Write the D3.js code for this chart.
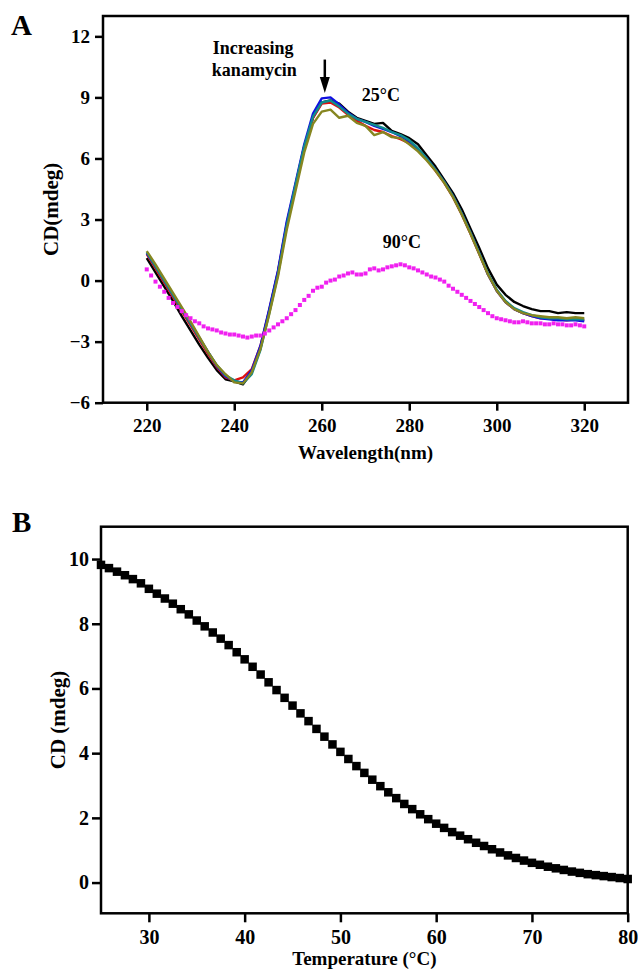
<!DOCTYPE html>
<html lang="en">
<head>
<meta charset="UTF-8">
<title>CD spectra and melting curve</title>
<script src="https://d3js.org/d3.v7.min.js"></script>
<style>
  body { margin: 0; background: #fff; }
  svg { display: block; font-family: "Times New Roman", "Liberation Serif", serif; font-weight: bold; }
</style>
</head>
<body>
<script>
// ---- Panel A data: CD spectra at 25 C (5 kanamycin levels) and 90 C ----
const wl = [220,222,224,226,228,230,232,234,236,238,240,242,244,246,248,250,252,254,256,258,260,
  262,264,266,268,270,272,274,276,278,280,282,284,286,288,290,292,294,296,298,300,
  302,304,306,308,310,312,314,316,318,320];

const cdBlack = [1.1,0.4,-0.3,-1.0,-1.75,-2.45,-3.15,-3.8,-4.4,-4.85,-4.95,-5.1,-4.5,-3.3,-1.5,0.4,2.7,4.6,6.5,8.0,8.75,
  8.85,8.7,8.3,8.0,7.85,7.7,7.75,7.35,7.2,7.0,6.7,6.15,5.6,4.95,4.3,3.5,2.55,1.6,0.6,-0.2,
  -0.7,-1.05,-1.25,-1.4,-1.5,-1.5,-1.6,-1.55,-1.6,-1.6];
const cdRed = [1.3,0.6,-0.1,-0.8,-1.5,-2.2,-2.9,-3.6,-4.25,-4.75,-4.9,-4.75,-4.35,-3.2,-1.45,0.45,2.8,4.7,6.6,8.0,8.7,
  8.75,8.5,8.15,7.85,7.6,7.4,7.3,7.1,6.95,6.75,6.4,5.95,5.4,4.8,4.1,3.25,2.3,1.3,0.3,-0.5,
  -1.05,-1.4,-1.6,-1.75,-1.85,-1.85,-1.9,-1.95,-1.9,-1.95];
const cdBlue = [1.35,0.7,0.0,-0.7,-1.4,-2.1,-2.8,-3.5,-4.2,-4.7,-4.95,-5.0,-4.4,-3.2,-1.4,0.5,2.9,4.8,6.7,8.2,8.95,
  9.0,8.65,8.25,7.95,7.8,7.6,7.45,7.3,7.1,6.85,6.45,6.0,5.45,4.85,4.15,3.3,2.35,1.35,0.3,-0.5,
  -1.05,-1.4,-1.6,-1.75,-1.85,-1.9,-1.95,-1.95,-1.95,-2.0];
const cdTeal = [1.4,0.7,0.0,-0.7,-1.4,-2.1,-2.8,-3.5,-4.15,-4.65,-4.9,-5.05,-4.6,-3.4,-1.6,0.3,2.7,4.7,6.6,8.05,8.75,
  8.85,8.55,8.2,7.95,7.8,7.65,7.5,7.3,7.15,6.9,6.5,6.0,5.45,4.85,4.15,3.3,2.35,1.35,0.35,-0.45,
  -1.0,-1.35,-1.55,-1.7,-1.8,-1.85,-1.85,-1.9,-1.9,-1.9];
const cdOlive = [1.45,0.8,0.1,-0.6,-1.3,-2.0,-2.75,-3.5,-4.15,-4.6,-5.0,-5.05,-4.5,-3.35,-1.65,0.2,2.5,4.4,6.3,7.7,8.3,
  8.4,8.0,8.1,7.75,7.6,7.15,7.3,7.05,7.0,6.7,6.35,5.9,5.4,4.8,4.1,3.25,2.3,1.3,0.3,-0.5,
  -1.05,-1.4,-1.6,-1.7,-1.75,-1.8,-1.8,-1.85,-1.8,-1.85];

const seriesNames = ["black", "red", "blue", "teal", "olive"];
const seriesColors = ["#000000", "#e01010", "#1010e0", "#108c8c", "#868620"];
const seriesValues = [cdBlack, cdRed, cdBlue, cdTeal, cdOlive];

const wl90 = [220,221,222,223,224,225,226,227,228,229,230,231,232,233,234,235,236,237,238,239,240,
  241,242,243,244,245,246,247,248,249,250,251,252,253,254,255,256,257,258,259,260,
  261,262,263,264,265,266,267,268,269,270,271,272,273,274,275,276,277,278,279,280,
  281,282,283,284,285,286,287,288,289,290,291,292,293,294,295,296,297,298,299,300,
  301,302,303,304,305,306,307,308,309,310,311,312,313,314,315,316,317,318,319,320];
const cd90 = [0.55,0.25,-0.05,-0.3,-0.55,-0.85,-1.1,-1.3,-1.5,-1.7,-1.85,-2.0,-2.1,-2.25,-2.35,-2.4,-2.45,-2.55,-2.6,-2.65,-2.65,
  -2.7,-2.75,-2.8,-2.75,-2.7,-2.7,-2.6,-2.45,-2.3,-2.15,-2.0,-1.85,-1.65,-1.45,-1.2,-0.95,-0.75,-0.5,-0.35,-0.3,
  -0.1,0.0,0.05,0.2,0.25,0.35,0.4,0.3,0.3,0.35,0.55,0.6,0.5,0.55,0.65,0.7,0.75,0.8,0.75,0.65,
  0.6,0.5,0.4,0.3,0.2,0.15,0.05,-0.05,-0.25,-0.4,-0.55,-0.7,-0.85,-1.0,-1.15,-1.3,-1.45,-1.6,-1.75,-1.85,
  -1.9,-1.95,-2.0,-2.05,-2.05,-2.0,-2.05,-2.1,-2.1,-2.1,-2.15,-2.15,-2.1,-2.15,-2.15,-2.2,-2.2,-2.15,-2.2,-2.25];

const xTicksA = [220, 240, 260, 280, 300, 320];
const yTicksA = [-6, -3, 0, 3, 6, 9, 12];

// ---- Panel B data: thermal melting curve ----
const temps = [25.00,25.83,26.67,27.50,28.33,29.17,30.00,30.83,31.67,32.50,33.33,34.17,35.00,35.83,36.67,37.50,38.33,39.17,
  40.00,40.83,41.67,42.50,43.33,44.17,45.00,45.83,46.67,47.50,48.33,49.17,50.00,50.83,51.67,52.50,53.33,54.17,
  55.00,55.83,56.67,57.50,58.33,59.17,60.00,60.83,61.67,62.50,63.33,64.17,65.00,65.83,66.67,67.50,68.33,69.17,
  70.00,70.83,71.67,72.50,73.33,74.17,75.00,75.83,76.67,77.50,78.33,79.17,80.00];
const cdTemp = [9.82,9.72,9.61,9.50,9.38,9.25,9.08,8.93,8.78,8.62,8.45,8.29,8.10,7.92,7.73,7.54,7.34,7.12,
  6.90,6.67,6.43,6.19,5.95,5.71,5.47,5.23,4.99,4.75,4.51,4.27,4.04,3.82,3.60,3.39,3.18,2.98,
  2.79,2.61,2.43,2.27,2.11,1.96,1.82,1.69,1.56,1.45,1.34,1.23,1.13,1.03,0.93,0.84,0.76,0.68,
  0.61,0.55,0.49,0.44,0.39,0.34,0.30,0.26,0.23,0.20,0.17,0.14,0.11];

const xTicksB = [30, 40, 50, 60, 70, 80];
const yTicksB = [0, 2, 4, 6, 8, 10];

// ---- layout ----
const W = 638, H = 969;
const svg = d3.select("body").append("svg").attr("width", W).attr("height", H);

const xA = d3.scaleLinear().domain([210, 330]).range([103, 628]);
const yA = d3.scaleLinear().domain([-6, 13]).range([402.7, 16]);
const xB = d3.scaleLinear().domain([25, 80]).range([101, 627.7]);
const yB = d3.scaleLinear().domain([-0.95, 11]).range([913.3, 526.7]);

function drawAxes(x, y, xTicks, yTicks, opts) {
  const g = svg.append("g");
  const [x0, x1] = x.range();
  const [y0, y1] = y.range();
  const ax = g.append("g").attr("transform", `translate(0,${y0})`)
    .call(d3.axisBottom(x).tickValues(xTicks).tickSize(opts.tick).tickPadding(opts.padX).tickSizeOuter(0));
  const ay = g.append("g").attr("transform", `translate(${x0},0)`)
    .call(d3.axisLeft(y).tickValues(yTicks).tickSize(opts.tick).tickPadding(opts.padY).tickSizeOuter(0));
  [ax, ay].forEach(a => {
    a.select(".domain").remove();
    a.selectAll("line").attr("stroke", "#000").attr("stroke-width", 2.5);
    a.selectAll("text").attr("fill", "#000")
      .style("font-family", '"Times New Roman", "Liberation Serif", serif')
      .style("font-weight", "bold").style("font-size", opts.font + "px");
  });
  // frame
  g.append("rect")
    .attr("x", x0).attr("y", y1).attr("width", x1 - x0).attr("height", y0 - y1)
    .attr("fill", "none").attr("stroke", "#000").attr("stroke-width", 2.5);
  return g;
}

// ---- Panel A ----
drawAxes(xA, yA, xTicksA, yTicksA, { tick: 8, padX: 8, padY: 5, font: 19 });

const lineA = d3.line().x(d => xA(d[0])).y(d => yA(d[1]));
seriesValues.forEach((vals, i) => {
  svg.append("path")
    .datum(wl.map((w, j) => [w, vals[j]]))
    .attr("class", "spec " + seriesNames[i])
    .attr("fill", "none")
    .attr("stroke", seriesColors[i])
    .attr("stroke-width", 2.4)
    .attr("stroke-linejoin", "round")
    .attr("d", lineA);
});

svg.append("g").selectAll("rect")
  .data(wl90.map((w, j) => [w, cd90[j]]))
  .join("rect")
  .attr("x", d => xA(d[0]) - 2)
  .attr("y", d => yA(d[1]) - 2)
  .attr("width", 4).attr("height", 4)
  .attr("fill", "#f020f0");

// annotations (placed in data units)
svg.append("text").attr("x", xA(244.3)).attr("y", yA(11.12))
  .attr("text-anchor", "middle").style("font-size", "18px").text("Increasing");
svg.append("text").attr("x", xA(244.6)).attr("y", yA(10.04))
  .attr("text-anchor", "middle").style("font-size", "18px").text("kanamycin");
svg.append("text").attr("x", xA(273.5)).attr("y", yA(8.81))
  .attr("text-anchor", "middle").style("font-size", "18px").text("25°C");
svg.append("text").attr("x", xA(278.3)).attr("y", yA(1.6))
  .attr("text-anchor", "middle").style("font-size", "18px").text("90°C");

// arrow
const ax0 = xA(260.7), ayTop = yA(10.86), ayTip = yA(9.22);
svg.append("line").attr("x1", ax0).attr("x2", ax0).attr("y1", ayTop).attr("y2", ayTip - 10)
  .attr("stroke", "#000").attr("stroke-width", 2.5);
svg.append("path")
  .attr("d", `M${ax0 - 5},${ayTip - 16} L${ax0 + 5},${ayTip - 16} L${ax0},${ayTip} Z`)
  .attr("fill", "#000");

// axis titles
svg.append("text").attr("transform", `translate(58,${(16 + 402.7) / 2}) rotate(-90)`)
  .attr("text-anchor", "middle").style("font-size", "21px").text("CD(mdeg)");
svg.append("text").attr("x", (103 + 628) / 2).attr("y", 459)
  .attr("text-anchor", "middle").style("font-size", "19px").text("Wavelength(nm)");
svg.append("text").attr("x", 11).attr("y", 35).style("font-size", "29px").text("A");

// ---- Panel B ----
drawAxes(xB, yB, xTicksB, yTicksB, { tick: 9, padX: 8, padY: 3, font: 20 });

svg.append("g").selectAll("rect")
  .data(temps.map((t, j) => [t, cdTemp[j]]))
  .join("rect")
  .attr("x", d => xB(d[0]) - 4.25)
  .attr("y", d => yB(d[1]) - 4.25)
  .attr("width", 8.5).attr("height", 8.5)
  .attr("fill", "#000");

svg.append("text").attr("transform", `translate(65,${(526.7 + 913.3) / 2}) rotate(-90)`)
  .attr("text-anchor", "middle").style("font-size", "21px").text("CD (mdeg)");
svg.append("text").attr("x", (101 + 627.7) / 2).attr("y", 965)
  .attr("text-anchor", "middle").style("font-size", "19px").text("Temperature (°C)");
svg.append("text").attr("x", 12).attr("y", 532).style("font-size", "29px").text("B");
</script>
</body>
</html>
